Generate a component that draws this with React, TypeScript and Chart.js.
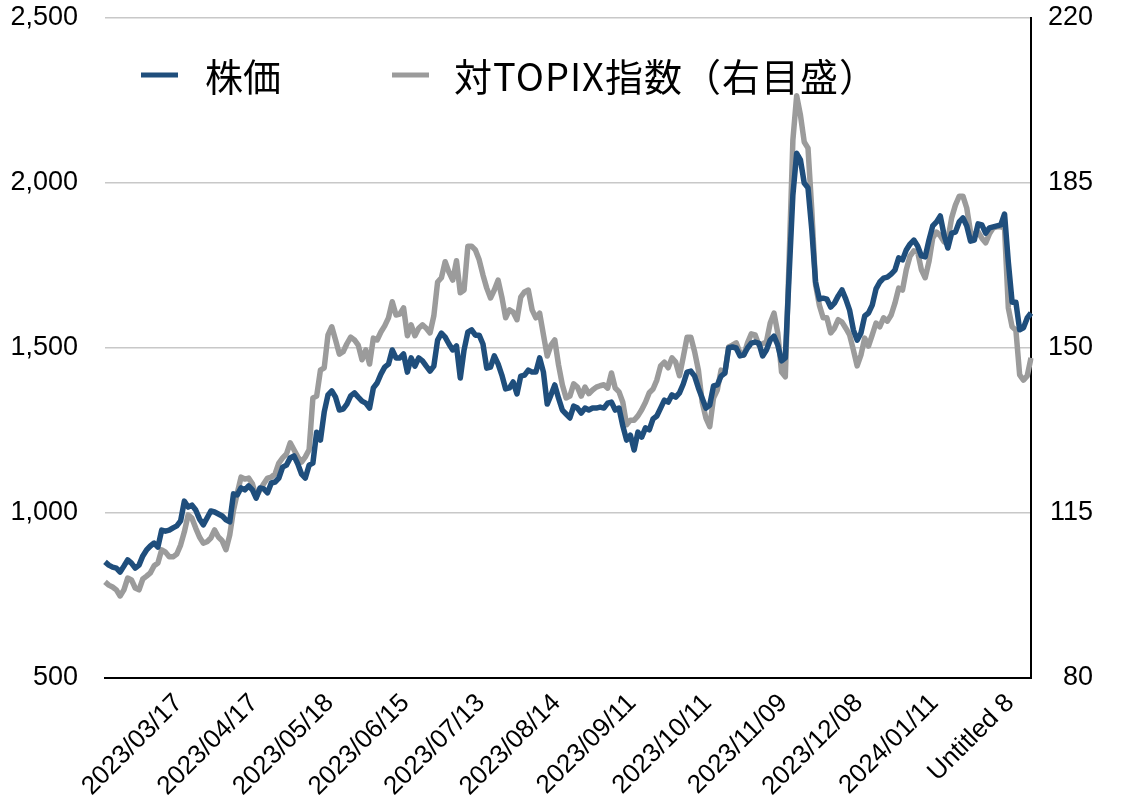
import React, { useEffect, useRef } from "react";
import { Chart, registerables } from "chart.js";

Chart.register(...registerables);

const W = 1121;
const H = 808;

const tickLabels = [
  "2023/03/17",
  "2023/04/17",
  "2023/05/18",
  "2023/06/15",
  "2023/07/13",
  "2023/08/14",
  "2023/09/11",
  "2023/10/11",
  "2023/11/09",
  "2023/12/08",
  "2024/01/11",
  "Untitled 8",
];
const tickEvery = 20;

const stockPrice = [
  852, 842, 836, 833, 821, 839, 858, 848, 833, 842,
  870, 888, 900, 909, 897, 948, 945, 948, 955, 961,
  976, 1036, 1018, 1024, 1009, 982, 964, 985, 1006, 1003,
  997, 991, 979, 973, 1058, 1055, 1076, 1070, 1082, 1070,
  1045, 1076, 1073, 1061, 1091, 1094, 1106, 1139, 1145, 1167,
  1173, 1149, 1118, 1106, 1145, 1151, 1245, 1221, 1306, 1358,
  1370, 1351, 1312, 1315, 1330, 1355, 1364, 1351, 1339, 1333,
  1318, 1379, 1394, 1421, 1442, 1451, 1494, 1470, 1470, 1482,
  1427, 1470, 1445, 1470, 1461, 1445, 1430, 1445, 1524, 1545,
  1533, 1512, 1494, 1506, 1409, 1494, 1548, 1555, 1539, 1539,
  1512, 1439, 1442, 1476, 1452, 1418, 1376, 1379, 1397, 1361,
  1415, 1418, 1433, 1427, 1427, 1470, 1427, 1330, 1358, 1388,
  1348, 1312, 1300, 1288, 1324, 1318, 1303, 1318, 1312, 1318,
  1318, 1321, 1318, 1333, 1336, 1312, 1318, 1264, 1221, 1236,
  1191, 1245, 1230, 1258, 1252, 1285, 1294, 1318, 1342, 1336,
  1358, 1351, 1364, 1391, 1427, 1430, 1415, 1379, 1348, 1318,
  1327, 1385, 1388, 1415, 1424, 1500, 1503, 1500, 1476, 1479,
  1500, 1515, 1518, 1515, 1476, 1494, 1524, 1536, 1509, 1461,
  1470, 1721, 1964, 2090, 2070, 2000, 1985, 1858, 1700, 1648,
  1651, 1648, 1624, 1636, 1658, 1676, 1648, 1615, 1555, 1524,
  1545, 1597, 1606, 1630, 1679, 1700, 1712, 1715, 1724, 1736,
  1773, 1767, 1797, 1815, 1827, 1809, 1779, 1776, 1827, 1870,
  1882, 1900, 1842, 1803, 1848, 1851, 1882, 1894, 1870, 1824,
  1827, 1876, 1873, 1848, 1864, 1867, 1870, 1873, 1906, 1761,
  1639, 1639, 1555, 1561, 1591, 1606,
];

const topixRelative = [
  100.4, 99.7, 99.3, 98.7, 97.4, 98.7, 101.2, 100.8, 99.1, 98.7,
  101.0, 101.6, 102.3, 103.8, 104.4, 107.2, 106.7, 105.7, 105.7, 106.3,
  108.2, 111.0, 114.6, 113.9, 111.8, 109.9, 108.6, 108.9, 109.7, 111.4,
  109.9, 109.1, 107.2, 110.3, 115.6, 119.2, 122.6, 122.2, 122.4, 121.2,
  118.4, 119.9, 121.2, 122.4, 122.6, 123.3, 125.6, 126.7, 127.5, 129.9,
  128.4, 126.9, 125.8, 126.9, 128.4, 139.4, 139.8, 145.3, 145.8, 152.8,
  154.5, 151.7, 148.7, 149.2, 150.9, 152.3, 151.7, 150.6, 147.5, 149.6,
  146.6, 152.1, 151.7, 153.4, 154.7, 156.4, 159.8, 157.0, 157.2, 158.5,
  152.6, 154.9, 152.6, 154.2, 154.9, 154.2, 153.2, 156.8, 164.0, 164.9,
  168.3, 166.1, 164.4, 168.5, 161.7, 162.3, 171.6, 171.6, 170.8, 168.7,
  165.5, 162.7, 160.6, 162.3, 164.4, 160.8, 156.4, 158.1, 157.6, 156.0,
  160.8, 161.9, 162.3, 158.1, 156.4, 157.4, 152.8, 148.3, 150.6, 151.7,
  146.4, 142.2, 139.4, 139.8, 142.4, 141.7, 139.8, 141.7, 140.3, 141.1,
  141.7, 142.0, 142.2, 141.5, 144.7, 141.5, 140.7, 138.5, 133.7, 134.7,
  134.7, 135.6, 136.9, 138.5, 140.5, 141.3, 143.2, 146.2, 147.0, 145.8,
  147.9, 147.0, 144.1, 148.1, 152.3, 152.3, 149.2, 145.3, 138.5, 135.1,
  133.3, 139.4, 141.1, 145.3, 144.7, 150.2, 150.6, 151.1, 149.0, 148.5,
  151.1, 153.0, 152.8, 150.6, 150.9, 151.3, 155.3, 157.4, 153.2, 144.9,
  143.9, 168.7, 194.1, 203.5, 199.4, 193.7, 192.4, 179.3, 163.4, 159.1,
  156.4, 156.4, 153.2, 154.2, 156.0, 155.5, 154.2, 152.8, 149.6, 146.2,
  148.5, 152.1, 150.4, 152.8, 155.3, 154.5, 156.4, 155.7, 157.0, 159.5,
  162.7, 162.3, 166.6, 169.5, 170.6, 170.4, 166.6, 164.9, 168.3, 173.3,
  174.6, 173.8, 172.5, 172.9, 177.6, 180.3, 182.2, 182.2, 179.7, 174.6,
  173.8, 174.6, 173.3, 172.3, 174.2, 175.5, 175.7, 175.7, 175.5, 158.5,
  154.5, 153.8, 144.3, 143.2, 144.1, 147.9,
];

const seriesNames = ["株価", "対TOPIX指数（右目盛）"];

const BLUE = "#1f4e7c";
const GRAY = "#9b9b9b";
const FAMILY = '"Liberation Sans", Arial, Helvetica, sans-serif';
const TICK_FONT = { family: FAMILY, size: 27 };
const XTICK_FONT = { family: FAMILY, size: 26 };

const categories = stockPrice.map((_, i) => String(i));

const insideLegend = {
  id: "insideLegend",
  afterDraw(chart: any) {
    const ctx = chart.ctx;
    const y = 75;
    const items = [
      { text: seriesNames[0], color: BLUE, x0: 141, x1: 178, tx: 205 },
      { text: seriesNames[1], color: GRAY, x0: 392, x1: 429, tx: 454 },
    ];
    ctx.save();
    ctx.font = '38px "Noto Sans CJK JP", sans-serif';
    ctx.textBaseline = "middle";
    ctx.textAlign = "left";
    for (const it of items) {
      ctx.strokeStyle = it.color;
      ctx.lineWidth = 5;
      ctx.lineCap = "butt";
      ctx.beginPath();
      ctx.moveTo(it.x0, y);
      ctx.lineTo(it.x1, y);
      ctx.stroke();
      ctx.fillStyle = "#000";
      try {
        (ctx as any).letterSpacing = it.text.length > 4 ? "1px" : "0px";
      } catch (e) {}
      ctx.fillText(it.text, it.tx, y + 2);
    }
    ctx.restore();
  },
};

const zeroPad = (s: any) => {
  s.paddingTop = 0;
  s.paddingBottom = 0;
  s.paddingLeft = 0;
  s.paddingRight = 0;
};

export default function App() {
  const ref = useRef<HTMLCanvasElement | null>(null);

  useEffect(() => {
    if (!ref.current) return;
    const chart = new Chart(ref.current, {
      type: "line",
      data: {
        labels: categories,
        datasets: [
          {
            label: seriesNames[0],
            data: stockPrice,
            yAxisID: "y",
            borderColor: BLUE,
            backgroundColor: BLUE,
            borderWidth: 5.5,
            pointRadius: 0,
            tension: 0,
            borderJoinStyle: "round",
          },
          {
            label: seriesNames[1],
            data: topixRelative,
            yAxisID: "y1",
            borderColor: GRAY,
            backgroundColor: GRAY,
            borderWidth: 5.5,
            pointRadius: 0,
            tension: 0,
            borderJoinStyle: "round",
          },
        ],
      },
      options: {
        responsive: false,
        animation: false,
        events: [],
        layout: { padding: { top: 18, left: 0, right: 28, bottom: 0 } },
        plugins: {
          legend: { display: false },
          tooltip: { enabled: false },
        },
        scales: {
          x: {
            type: "category",
            offset: false,
            grid: { display: false, drawTicks: false },
            border: { display: true, color: "#000", width: 2 },
            ticks: {
              autoSkip: false,
              minRotation: 45,
              maxRotation: 45,
              padding: 10,
              labelOffset: -2,
              color: "#000",
              font: XTICK_FONT,
              callback: (_v: any, idx: number) =>
                idx > 0 && idx % tickEvery === 0 ? tickLabels[idx / tickEvery - 1] ?? "" : "",
            },
            afterFit: (s: any) => {
              s.height = H - 678;
              zeroPad(s);
            },
          },
          y: {
            position: "left",
            min: 500,
            max: 2500,
            grid: { color: "#c8c8c8", lineWidth: 1.5, drawTicks: false },
            border: { display: false },
            ticks: {
              stepSize: 500,
              padding: 27,
              color: "#000",
              font: TICK_FONT,
              callback: (v: any) => Number(v).toLocaleString("en-US"),
            },
            afterFit: (s: any) => {
              s.width = 105;
              zeroPad(s);
            },
          },
          y1: {
            position: "right",
            min: 80,
            max: 220,
            grid: { display: false, drawTicks: false },
            border: { display: true, color: "#000", width: 2 },
            ticks: {
              stepSize: 35,
              padding: 16,
              crossAlign: "far",
              color: "#000",
              font: TICK_FONT,
            },
            afterFit: (s: any) => {
              s.width = W - 28 - 1031;
              zeroPad(s);
            },
          },
        },
      },
      plugins: [insideLegend],
    });
    return () => chart.destroy();
  }, []);

  return (
    <div style={{ position: "fixed", left: 0, top: 0, width: W, height: H, background: "#fff" }}>
      <canvas ref={ref} width={W} height={H} style={{ display: "block" }} />
    </div>
  );
}
